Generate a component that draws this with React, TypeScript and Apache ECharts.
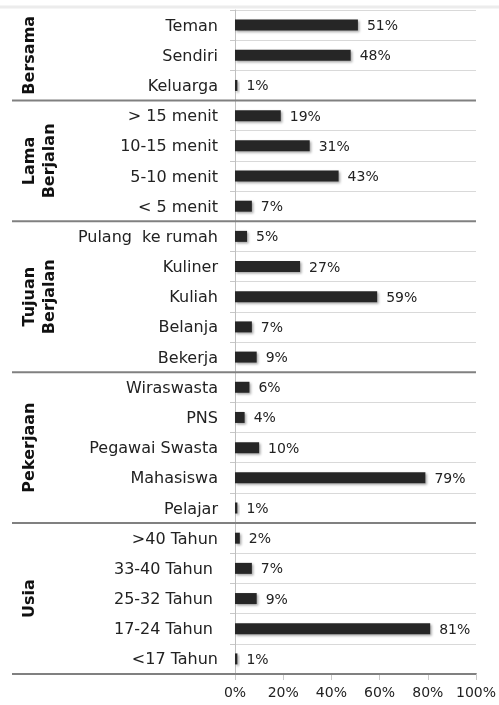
import React, { useEffect, useRef } from 'react';
import * as echarts from 'echarts';

const categories = [
  'Teman', 'Sendiri', 'Keluarga',
  '> 15 menit', '10-15 menit', '5-10 menit', '< 5 menit',
  'Pulang  ke rumah', 'Kuliner', 'Kuliah', 'Belanja', 'Bekerja',
  'Wiraswasta', 'PNS', 'Pegawai Swasta', 'Mahasiswa', 'Pelajar',
  '>40 Tahun', '33-40 Tahun ', '25-32 Tahun ', '17-24 Tahun ', '<17 Tahun',
];
const values = [
  51, 48, 1,
  19, 31, 43, 7,
  5, 27, 59, 7, 9,
  6, 4, 10, 79, 1,
  2, 7, 9, 81, 1,
];
const groupNames = ['Bersama', 'Lama\nBerjalan', 'Tujuan\nBerjalan', 'Pekerjaan', 'Usia'];
const groupSizes = [3, 4, 5, 5, 5];
const xMin = 0;
const xMax = 100;
const xInterval = 20;

const FONT = '"DejaVu Sans", Verdana, sans-serif';

export default function App() {
  const ref = useRef<HTMLDivElement>(null);
  useEffect(() => {
    const chart = echarts.init(ref.current!, null, { renderer: 'svg' });
    chart.setOption({
      animation: false,
      grid: { left: 235, right: 19, top: 10, bottom: 31, containLabel: false },
      xAxis: {
        type: 'value',
        min: xMin,
        max: xMax,
        interval: xInterval,
        axisLine: { show: true, lineStyle: { color: '#808080', width: 2 } },
        axisTick: { show: true, length: 6, lineStyle: { color: '#c8c8c8' } },
        splitLine: { show: false },
        axisLabel: { formatter: '{value}%', fontFamily: FONT, fontSize: 14, color: '#222', margin: 11 },
      },
      yAxis: {
        type: 'category',
        inverse: true,
        data: categories,
        axisLine: { show: true, lineStyle: { color: '#bfbfbf' } },
        axisTick: { show: true, length: 5, lineStyle: { color: '#c8c8c8' } },
        splitLine: { show: true, lineStyle: { color: '#d9d9d9' } },
        axisLabel: { fontFamily: FONT, fontSize: 16, color: '#222', margin: 17 },
      },
      series: [
        {
          type: 'bar',
          data: values,
          barWidth: 11,
          itemStyle: {
            color: '#262626',
            shadowColor: 'rgba(0,0,0,0.35)',
            shadowBlur: 2,
            shadowOffsetX: 1.5,
            shadowOffsetY: 1.5,
          },
          label: {
            show: true,
            position: 'right',
            distance: 9,
            formatter: '{c}%',
            fontFamily: FONT,
            fontSize: 14,
            color: '#222',
          },
        },
      ],
    });

    const p0 = chart.convertToPixel({ yAxisIndex: 0 }, 0) as number;
    const p1 = chart.convertToPixel({ yAxisIndex: 0 }, 1) as number;
    const band = p1 - p0;
    const xRight = chart.convertToPixel({ xAxisIndex: 0 }, xMax) as number;
    const elements: any[] = [
      {
        type: 'line',
        shape: { x1: 0, y1: 7, x2: 499, y2: 7 },
        style: { stroke: '#ececec', lineWidth: 3 },
        silent: true,
      },
    ];
    let start = 0;
    groupNames.forEach((name, gi) => {
      const end = start + groupSizes[gi] - 1;
      const ys = chart.convertToPixel({ yAxisIndex: 0 }, start) as number;
      const ye = chart.convertToPixel({ yAxisIndex: 0 }, end) as number;
      const center = (ys + ye) / 2;
      const bottom = ye + band / 2;
      elements.push({
        type: 'line',
        shape: { x1: 12, y1: bottom, x2: xRight, y2: bottom },
        style: { stroke: '#808080', lineWidth: 2 },
        z: 10,
        silent: true,
      });
      elements.push({
        type: 'text',
        x: 18,
        y: center,
        rotation: Math.PI / 2,
        style: {
          text: name,
          font: `bold 16px ${FONT}`,
          fill: '#111',
          align: 'center',
          verticalAlign: 'top',
          lineHeight: 20,
        },
        silent: true,
      });
      start = end + 1;
    });
    chart.setOption({ graphic: { elements } });

    return () => chart.dispose();
  }, []);
  return (
    <div
      ref={ref}
      style={{ position: 'fixed', left: 0, top: 0, width: 499, height: 705 }}
    />
  );
}
